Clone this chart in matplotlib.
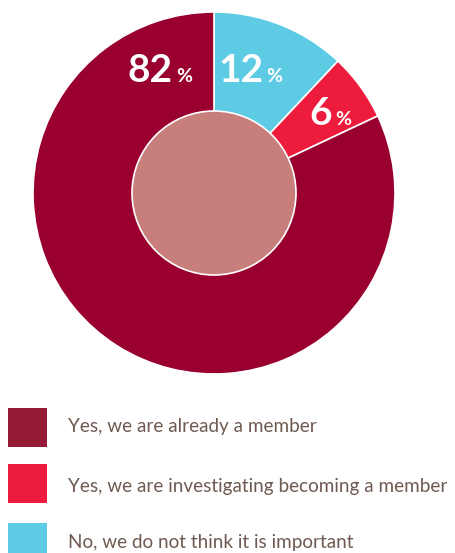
import matplotlib
matplotlib.use('Agg')
import matplotlib.pyplot as plt
from matplotlib.patches import Circle, Rectangle

# Survey answers, drawn clockwise from 12 o'clock
answers = ['No, we do not think it is important',
           'Yes, we are investigating becoming a member',
           'Yes, we are already a member']
shares = [12, 6, 82]
colors = ['#5ecbe4', '#ee1c3c', '#99002f']

# legend order (top to bottom)
legend_order = [2, 1, 0]
legend_colors = ['#941a35', '#ee1c3c', '#5ecbe4']

W, H = 456, 553
fig = plt.figure(figsize=(W / 100, H / 100), dpi=100)

# pie axes: center (214, 193) px, outer radius 181 px
cx, cy, R = 214, 193, 181
ax = fig.add_axes([(cx - R) / W, (H - cy - R) / H, 2 * R / W, 2 * R / H])
ax.pie(shares, colors=colors, startangle=90, counterclock=False, radius=1,
       wedgeprops=dict(edgecolor='white', linewidth=1.2))
ax.add_patch(Circle((0, 0), 82 / R, facecolor='#c87f7c', edgecolor='white',
                    linewidth=1.2, zorder=5))
ax.set_xlim(-1, 1)
ax.set_ylim(-1, 1)
ax.set_aspect('auto')
ax.axis('off')

plt.rcParams['font.family'] = ['Lato', 'DejaVu Sans']


def px(x, y):
    return x / W, 1 - y / H


# percentage labels: (x where number ends, baseline y) in pixels
label_pos = [(263, 82), (332, 125), (173, 82)]
for val, (x, y) in zip(shares, label_pos):
    fig.text(*px(x, y), str(val), ha='right', va='baseline', color='white',
             fontsize=28, fontweight='bold')
    fig.text(*px(x + 3, y), '%', ha='left', va='baseline', color='white',
             fontsize=14, fontweight='bold')

# legend
sw_top = [408, 464, 523]
text_base = [432, 492, 548]
for i, idx in enumerate(legend_order):
    fig.patches.append(Rectangle(px(8, sw_top[i] + 39), 39 / W, 39 / H,
                                 transform=fig.transFigure, facecolor=legend_colors[i],
                                 edgecolor='none'))
    fig.text(*px(68, text_base[i]), answers[idx], ha='left', va='baseline',
             color='#6e5a50', fontsize=13.6)

fig.savefig('out.png', dpi=100)
